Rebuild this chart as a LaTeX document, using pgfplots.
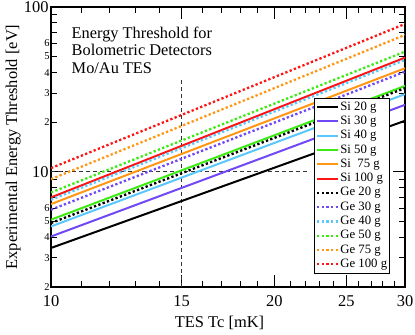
\documentclass[border=0pt]{standalone}
\usepackage{fontspec}
\setmainfont{Liberation Serif}
\usepackage{pgfplots}
\pgfplotsset{compat=1.18}

\definecolor{cViolet}{RGB}{112,72,245}
\definecolor{cSky}{RGB}{90,200,250}
\definecolor{cGreen}{RGB}{60,235,20}
\definecolor{cOrange}{RGB}{255,150,20}
\definecolor{cRed}{RGB}{255,20,20}

\pgfplotsset{
  si/.style={line width=2bp},
  ge/.style={line width=2.3bp, line cap=butt, dash pattern=on 2.3bp off 2.3bp},
}

\begin{document}
\begin{tikzpicture}
\begin{axis}[
  scale only axis,
  width=354bp, height=280bp,
  xmode=log, ymode=log,
  xmin=10, xmax=30, ymin=2, ymax=100,
  /pgf/number format/assume math mode=true,
  axis line style={line width=1.1bp},
  every tick/.style={black, line width=1bp},
  major tick length=12bp, minor tick length=6bp,
  xtick={10,15,20,25,30},
  xticklabels={10,15,20,25,30},
  minor xtick={11,12,13,14,16,17,18,19,21,22,23,24,26,27,28,29},
  ytick={10,100},
  yticklabels={10,100},
  minor ytick={7,8,9,70,80,90},
  extra y ticks={2,3,4,5,6,20,30,40,50,60},
  extra y tick labels={2,3,4,5,6,2,3,4,5,6},
  extra y tick style={major tick length=6bp,
    yticklabel style={font=\fontsize{10.5}{12}\selectfont, xshift=1bp}},
  tick label style={font=\fontsize{16.5}{18}\selectfont},
  xticklabel style={yshift=-5bp},
  yticklabel style={xshift=1bp},
  xlabel={TES Tc [mK]},
  ylabel={Experimental Energy Threshold [eV]},
  label style={font=\fontsize{16.5}{18}\selectfont},
  xlabel style={at={(axis description cs:0.476,-0.129)}, anchor=center},
  ylabel style={at={(axis description cs:-0.107,0.5)}, anchor=center},
  legend cell align=left,
  legend style={at={(0.958,0.675)}, anchor=north east,
    font=\fontsize{12.8}{14}\selectfont, fill=white, draw=black,
    line width=0.8bp, inner sep=1.5bp, row sep=0pt,
    nodes={inner sep=1.1bp, text height=9.2bp, text depth=2.9bp}},
  legend image code/.code={\draw[#1] (0cm,0cm) -- (0.74cm,0cm);},
]

% reference lines
\addplot[forget plot, black!80, line width=0.9bp, dash pattern=on 4bp off 3bp] coordinates {(10,10) (22.2,10)};
\addplot[forget plot, black!80, line width=0.9bp, dash pattern=on 4bp off 3bp] coordinates {(15,2) (15,37)};

% Si absorbers
\addplot[si, black]   coordinates {(10,3.45) (30,20.4)};
\addlegendentry{Si 20 g}
\addplot[si, cViolet] coordinates {(10,4.05) (30,25.5)};
\addlegendentry{Si 30 g}
\addplot[si, cSky]    coordinates {(10,4.66) (30,29.6)};
\addlegendentry{Si 40 g}
\addplot[si, cGreen]  coordinates {(10,5.12) (30,33.2)};
\addlegendentry{Si 50 g}
\addplot[si, cOrange] coordinates {(10,6.37) (30,42.5)};
\addlegendentry{Si\ \ 75 g}
\addplot[si, cRed]    coordinates {(10,6.99) (30,49.3)};
\addlegendentry{Si 100 g}

% Ge absorbers
\addplot[ge, black]   coordinates {(10,4.89) (30,32.2)};
\addlegendentry{Ge 20 g}
\addplot[ge, cViolet] coordinates {(10,5.89) (30,40.5)};
\addlegendentry{Ge 30 g}
\addplot[ge, cSky]    coordinates {(10,6.77) (30,47.7)};
\addlegendentry{Ge 40 g}
\addplot[ge, cGreen]  coordinates {(10,7.49) (30,53.6)};
\addlegendentry{Ge 50 g}
\addplot[ge, cOrange] coordinates {(10,9.03) (30,67.7)};
\addlegendentry{Ge 75 g}
\addplot[ge, cRed]    coordinates {(10,10.53) (30,78.9)};
\addlegendentry{Ge 100 g}

\node[anchor=north west, align=left, inner sep=0pt,
  font=\fontsize{16.4}{17.5}\selectfont] at (rel axis cs:0.058,0.93)
  {Energy Threshold for\\Bolometric Detectors\\Mo/Au TES};
\end{axis}
\pgfresetboundingbox
\path[use as bounding box] ([xshift=-51bp,yshift=-48bp]current axis.south west)
  rectangle ([xshift=10bp,yshift=7bp]current axis.north east);
\end{tikzpicture}
\end{document}
